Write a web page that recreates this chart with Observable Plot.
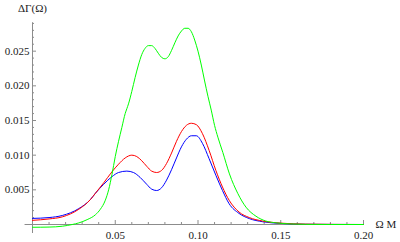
<!DOCTYPE html>
<html>
<head>
<meta charset="utf-8">
<script src="https://cdn.jsdelivr.net/npm/d3@7"></script>
<script src="https://cdn.jsdelivr.net/npm/@observablehq/plot@0.6"></script>
<style>
  html, body { margin: 0; padding: 0; background: #fff; }
  #chart { width: 400px; height: 242px; }
  #chart svg, #chart svg text { font-family: "Liberation Serif", "DejaVu Serif", "Times New Roman", Times, serif !important; font-size: 11px; }
</style>
</head>
<body>
<div id="chart"></div>
<script>
// ---- data ----
const greenX = [0.000,0.010,0.018,0.024,0.028,0.033,0.038,0.041,0.044,0.046,0.048,0.050,0.052,0.054,0.056,0.057,0.058,0.060,0.062,0.064,0.066,0.068,0.070,0.072,0.074,0.076,0.078,0.080,0.082,0.084,0.086,0.088,0.090,0.092,0.094,0.096,0.098,0.100,0.102,0.104,0.106,0.108,0.110,0.112,0.115,0.119,0.124,0.129,0.135,0.141,0.148,0.156,0.165,0.180,0.200];
const greenY = [-0.0004,-0.00037,-0.00025,0.0000,0.00023,0.0007,0.0014,0.0022,0.0035,0.0050,0.0072,0.0098,0.0120,0.0140,0.0160,0.0167,0.0174,0.0192,0.0212,0.0230,0.0245,0.0254,0.0258,0.0258,0.0254,0.0247,0.0241,0.0239,0.0242,0.0251,0.0262,0.0272,0.0279,0.0283,0.0283,0.0278,0.0266,0.0250,0.0230,0.0207,0.0185,0.0165,0.0143,0.0126,0.0104,0.0073,0.0045,0.0025,0.0012,0.0005,0.00022,0.00008,0.00002,0.0,0.0];

const redX = [0.000,0.010,0.018,0.028,0.035,0.038,0.043,0.048,0.052,0.056,0.060,0.063,0.066,0.069,0.072,0.075,0.078,0.081,0.084,0.087,0.090,0.093,0.096,0.099,0.1027,0.1067,0.1108,0.1148,0.1188,0.1248,0.131,0.139,0.150,0.165,0.200];
const redY = [0.0006,0.0008,0.0011,0.0022,0.0036,0.0045,0.0060,0.0076,0.0087,0.0096,0.0100,0.0098,0.0092,0.0084,0.0077,0.0075,0.0078,0.0088,0.0103,0.0120,0.0134,0.0143,0.0146,0.0144,0.0131,0.0107,0.0078,0.0054,0.0035,0.0018,0.0010,0.0005,0.0002,0.00005,0.0];

const blueX = [0.000,0.010,0.018,0.028,0.035,0.038,0.043,0.048,0.052,0.057,0.061,0.065,0.069,0.072,0.075,0.078,0.081,0.084,0.087,0.090,0.093,0.096,0.099,0.1027,0.1067,0.1108,0.1148,0.1188,0.1248,0.131,0.139,0.150,0.165,0.200];
const blueY = [0.00088,0.0010,0.0013,0.0023,0.0036,0.0045,0.0058,0.0069,0.0075,0.0077,0.0075,0.0068,0.0058,0.0051,0.0049,0.0053,0.0064,0.0079,0.0096,0.0112,0.0123,0.0128,0.0128,0.0117,0.0095,0.0071,0.0049,0.0030,0.0016,0.00085,0.0004,0.00015,0.00003,0.0];

const xMajorTicks = [0.05, 0.10, 0.15, 0.20];
const xMinorTicks = [0.01,0.02,0.03,0.04,0.06,0.07,0.08,0.09,0.11,0.12,0.13,0.14,0.16,0.17,0.18,0.19];
const yMajorTicks = [0.005, 0.010, 0.015, 0.020, 0.025];
const yMinorTicks = [0.001,0.002,0.003,0.004,0.006,0.007,0.008,0.009,0.011,0.012,0.013,0.014,0.016,0.017,0.018,0.019,0.021,0.022,0.023,0.024,0.026,0.027,0.028,0.029];
const xAxisExtent = [-0.0045, 0.2];
const yAxisExtent = [-0.0013, 0.0291];
const xLabel = "Ω M";
const yLabel = "ΔΓ(Ω)";

const toRows = (xs, ys) => xs.map((x, i) => ({x, y: ys[i]}));
const green = toRows(greenX, greenY);
const red = toRows(redX, redY);
const blue = toRows(blueX, blueY);

const W = 400, H = 242, mL = 32, mR = 37, mT = 16, mB = 18;
const frameW = W - mL - mR, frameH = H - mT - mB;
const axisColor = "#8c8c8c";
const textColor = "#1a1a1a";
const serif = "'Liberation Serif', 'DejaVu Serif', 'Times New Roman', Times, serif";

const chart = Plot.plot({
  width: W,
  height: H,
  marginLeft: mL,
  marginRight: mR,
  marginTop: mT,
  marginBottom: mB,
  style: { fontFamily: serif, fontSize: "11px", background: "#fff" },
  x: { domain: [0, 0.2], axis: null },
  y: { domain: [0, 0.03], axis: null },
  marks: [
    Plot.ruleY([0], { x1: xAxisExtent[0], x2: xAxisExtent[1], stroke: axisColor, strokeWidth: 1 }),
    Plot.ruleX([0], { y1: yAxisExtent[0], y2: yAxisExtent[1], stroke: axisColor, strokeWidth: 1 }),
    Plot.tickX(xMajorTicks, { x: d => d, insetTop: frameH - 4, stroke: axisColor }),
    Plot.tickX(xMinorTicks, { x: d => d, insetTop: frameH - 2, stroke: axisColor }),
    Plot.tickY(yMajorTicks, { y: d => d, insetRight: frameW - 4, stroke: axisColor }),
    Plot.tickY(yMinorTicks, { y: d => d, insetRight: frameW - 2, stroke: axisColor }),
    Plot.text(xMajorTicks, { x: d => d, y: 0, text: d3.format(".2f"), dy: 7, lineAnchor: "top", textAnchor: "middle", fill: textColor, fontFamily: serif, fontSize: 11 }),
    Plot.text(yMajorTicks, { x: 0, y: d => d, text: d3.format(".3f"), dx: -3, lineAnchor: "middle", textAnchor: "end", fill: textColor, fontFamily: serif, fontSize: 11 }),
    Plot.line(blue, { x: "x", y: "y", stroke: "#0000ff", strokeWidth: 1, curve: "monotone-x" }),
    Plot.line(red, { x: "x", y: "y", stroke: "#ff0000", strokeWidth: 1, curve: "monotone-x" }),
    Plot.line(green, { x: "x", y: "y", stroke: "#00ff00", strokeWidth: 1, curve: "monotone-x" }),
    Plot.text([yLabel], { x: 0, y: yAxisExtent[1], text: d => d, dy: -14, textAnchor: "middle", lineAnchor: "middle", fill: textColor, fontFamily: serif, fontSize: 11 }),
    Plot.text([xLabel], { x: xAxisExtent[1], y: 0, text: d => d, dx: 12, textAnchor: "start", lineAnchor: "middle", fill: textColor, fontFamily: serif, fontSize: 11 })
  ]
});
document.getElementById("chart").appendChild(chart);
</script>
</body>
</html>
